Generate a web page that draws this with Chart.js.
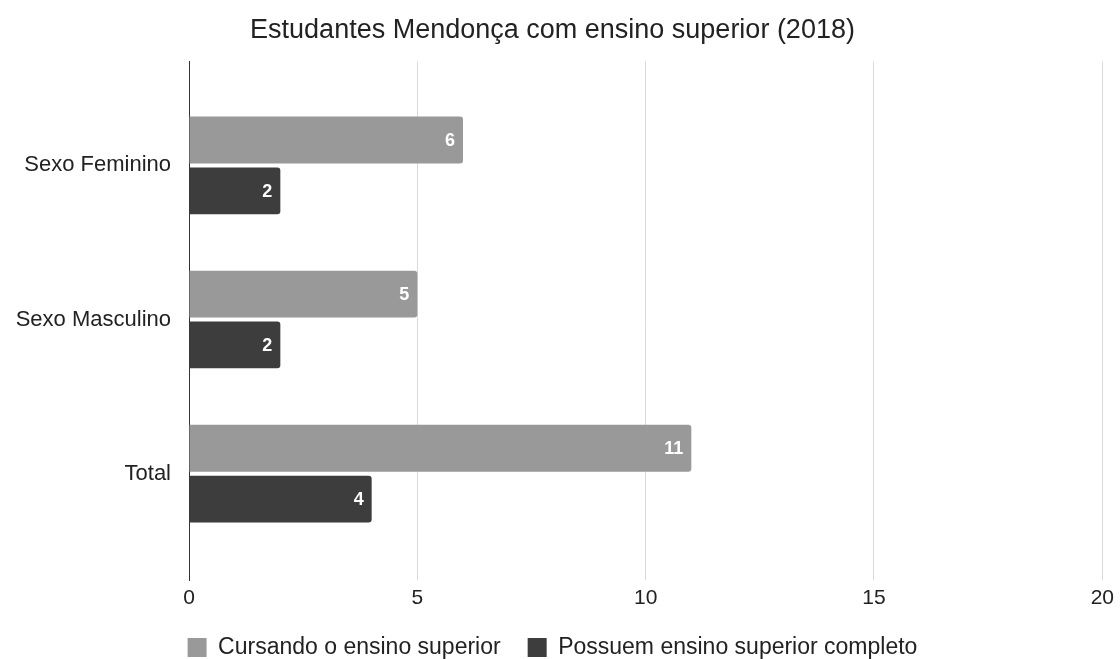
<!DOCTYPE html>
<html>
<head>
<meta charset="utf-8">
<script src="https://cdn.jsdelivr.net/npm/chart.js@4"></script>
<style>
  body { margin: 0; background: #fff; }
  #wrap { width: 1120px; height: 659px; }
</style>
</head>
<body>
<div id="wrap"><canvas id="chart"></canvas></div>
<script>
const categories = ['Sexo Feminino', 'Sexo Masculino', 'Total'];
const cursando = [6, 5, 11];
const possuem = [2, 2, 4];
const xTicks = [0, 5, 10, 15, 20];

const FONT = '"Liberation Sans", Arial, sans-serif';

// white values drawn inside the bar ends
const barLabels = {
    id: 'barLabels',
    afterDatasetsDraw(chart) {
        const ctx = chart.ctx;
        ctx.save();
        ctx.fillStyle = '#fff';
        ctx.font = 'bold 18px ' + FONT;
        ctx.textAlign = 'right';
        ctx.textBaseline = 'middle';
        chart.data.datasets.forEach((ds, i) => {
            chart.getDatasetMeta(i).data.forEach((bar, j) => {
                ctx.fillText(ds.data[j].x, bar.x - 8, bar.y + 1);
            });
        });
        ctx.restore();
    }
};

const ctx = document.getElementById('chart').getContext('2d');
new Chart(ctx, {
    type: 'bar',
    data: {
        datasets: [{
            label: 'Cursando o ensino superior',
            data: cursando.map((v, i) => ({ x: v, y: i })),
            backgroundColor: '#999999',
            borderRadius: 3,
            categoryPercentage: 0.66,
            barPercentage: 0.92
        },
        {
            label: 'Possuem ensino superior completo',
            data: possuem.map((v, i) => ({ x: v, y: i })),
            backgroundColor: '#3d3d3d',
            borderRadius: 3,
            categoryPercentage: 0.66,
            barPercentage: 0.92
        }]
    },
    options: {
        indexAxis: 'y',
        responsive: true,
        maintainAspectRatio: false,
        animation: false,
        layout: { padding: { left: 0, right: 15, top: 0, bottom: -10 } },
        plugins: {
            title: {
                display: true,
                text: 'Estudantes Mendonça com ensino superior (2018)',
                color: '#222',
                font: { size: 27, family: FONT, weight: 'normal' },
                padding: { top: 14, bottom: 15 }
            },
            legend: {
                position: 'bottom',
                labels: {
                    color: '#222',
                    boxWidth: 19,
                    boxHeight: 19,
                    padding: 27,
                    font: { size: 23, family: FONT }
                }
            },
            tooltip: { enabled: false }
        },
        scales: {
            x: {
                type: 'linear',
                min: xTicks[0],
                max: xTicks[xTicks.length - 1],
                afterBuildTicks: s => { s.ticks = xTicks.map(v => ({ value: v })); },
                afterFit: s => { s.height = 29; },
                grid: { color: '#d9d9d9', drawTicks: false },
                border: { display: false },
                ticks: {
                    color: '#222',
                    padding: 6,
                    font: { size: 21, family: FONT }
                }
            },
            y: {
                type: 'linear',
                reverse: true,
                offset: false,
                min: -0.675,
                max: categories.length - 1 + 0.69,
                afterBuildTicks: s => { s.ticks = categories.map((c, i) => ({ value: i })); },
                afterFit: s => { s.width = 189; },
                grid: { display: false },
                border: { display: true, color: '#333', width: 1 },
                ticks: {
                    color: '#222',
                    padding: 10,
                    font: { size: 22, family: FONT },
                    callback: v => categories[v]
                }
            }
        }
    },
    plugins: [barLabels]
});
</script>
</body>
</html>
